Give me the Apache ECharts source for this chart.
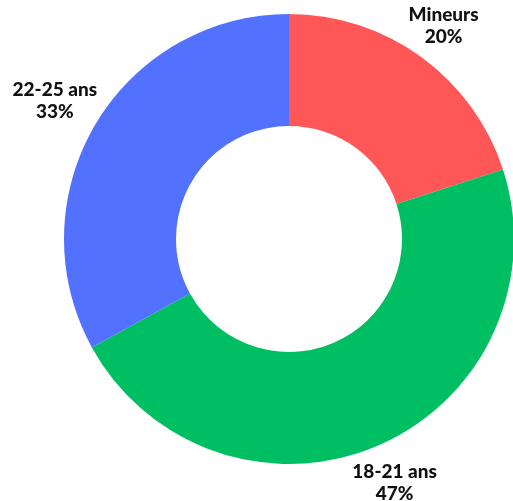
<!DOCTYPE html>
<html>
<head>
<meta charset="utf-8">
<script src="https://cdn.jsdelivr.net/npm/echarts@6/dist/echarts.min.js"></script>
<style>
  html, body { margin: 0; padding: 0; background: #fff; }
  #chart { width: 513px; height: 501px; }
</style>
</head>
<body>
<div id="chart"></div>
<script>
// slices go clockwise from 12 o'clock
const categories = ['Mineurs', '18-21 ans', '22-25 ans']
const shares = [20, 47, 33]
const colors = ['#ff5757', '#00bf63', '#5271ff']
const labelGap = [38, 41, 47]

const chart = echarts.init(document.getElementById('chart'))

chart.setOption({
  backgroundColor: '#ffffff',
  animation: false,
  series: [{
    type: 'pie',
    center: [289, 239],
    radius: [113, 225],
    startAngle: 90,
    clockwise: true,
    avoidLabelOverlap: false,
    data: categories.map((name, i) => ({
      name,
      value: shares[i],
      itemStyle: { color: colors[i] },
      labelLine: { length: labelGap[i] }
    })),
    label: {
      show: true,
      position: 'outside',
      formatter: '{b}\n{d}%',
      color: '#111111',
      fontFamily: 'Lato',
      fontWeight: 900,
      fontSize: 19,
      lineHeight: 22
    },
    labelLine: {
      show: false,
      length2: 0
    },
    labelLayout(params) {
      // centre the text block on the end of the (hidden) label line
      const r = params.labelRect
      const right = r.x > 289
      return { x: right ? r.x - 5 : r.x + r.width + 5, align: 'center' }
    }
  }]
})
</script>
</body>
</html>
